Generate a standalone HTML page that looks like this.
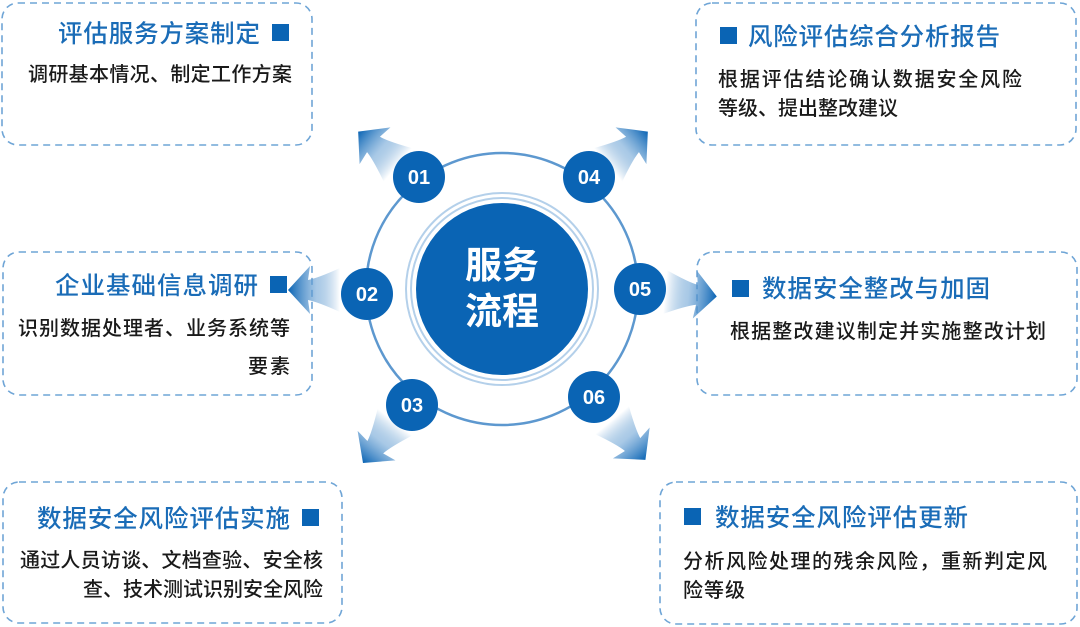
<!DOCTYPE html>
<html><head><meta charset="utf-8"><style>
html,body{margin:0;padding:0;background:#fff;width:1080px;height:627px;overflow:hidden}
svg{display:block}
.t{font-family:"Liberation Sans","Noto Sans CJK SC",sans-serif;font-size:24.5px;fill:#1a6cb7;font-weight:500}
.b{font-family:"Liberation Sans","Noto Sans CJK SC",sans-serif;font-size:20px;fill:#1a1a1a;font-weight:500}
.n{font-family:"Liberation Sans","Noto Sans CJK SC",sans-serif;font-size:20px;fill:#fff;font-weight:bold}
.c{font-family:"Liberation Sans","Noto Sans CJK SC",sans-serif;font-size:37px;fill:#fff;font-weight:bold}
</style></head><body>
<svg width="1080" height="627" viewBox="0 0 1080 627">
<defs>
<linearGradient id="g" x1="0" y1="0" x2="1" y2="0">
<stop offset="0" stop-color="#0a64b4" stop-opacity="0"/>
<stop offset="0.45" stop-color="#6fa5d6" stop-opacity="0.6"/>
<stop offset="1" stop-color="#0a64b4"/>
</linearGradient>
<path id="ar" d="M0,-22 Q22,-12 32,-10 L30,-24 L52,0 L30,24 L32,10 Q22,12 0,22 Z" fill="url(#g)"/>
</defs>
<g fill="none" stroke="#6fa5d6" stroke-width="1.6" stroke-dasharray="7,5">
<rect x="2" y="3" width="310" height="142" rx="16"/>
<rect x="3" y="252" width="309" height="143" rx="16"/>
<rect x="3" y="482" width="339" height="141" rx="16"/>
<rect x="696" y="3" width="380" height="142" rx="16"/>
<rect x="697" y="252" width="380" height="143" rx="16"/>
<rect x="660" y="482" width="417" height="142" rx="16"/>
</g>
<use href="#ar" transform="translate(398,165) rotate(-140)"/>
<use href="#ar" transform="translate(608,165) rotate(-40)"/>
<use href="#ar" transform="translate(340,290) rotate(180)"/>
<use href="#ar" transform="translate(665,292) rotate(5)"/>
<use href="#ar" transform="translate(395,422) rotate(128)"/>
<use href="#ar" transform="translate(612,420) rotate(50)"/>
<circle cx="502" cy="289" r="136" fill="none" stroke="#5d98cf" stroke-width="2.5"/>
<circle cx="502" cy="289" r="96" fill="none" stroke="#b4d0ea" stroke-width="2"/>
<circle cx="502" cy="289" r="91" fill="none" stroke="#b4d0ea" stroke-width="2"/>
<circle cx="502" cy="289" r="86" fill="#0a64b4"/>
<text class="c" x="502" y="278" text-anchor="middle">服务</text>
<text class="c" x="502" y="324" text-anchor="middle">流程</text>
<g fill="#0a64b4">
<circle cx="419" cy="177" r="26"/><circle cx="589" cy="177" r="26"/>
<circle cx="367" cy="294" r="26"/><circle cx="640" cy="289" r="26"/>
<circle cx="412" cy="405" r="26"/><circle cx="594" cy="397" r="26"/>
</g>
<text class="n" x="419" y="184" text-anchor="middle">01</text>
<text class="n" x="589" y="184" text-anchor="middle">04</text>
<text class="n" x="367" y="301" text-anchor="middle">02</text>
<text class="n" x="640" y="296" text-anchor="middle">05</text>
<text class="n" x="412" y="412" text-anchor="middle">03</text>
<text class="n" x="594" y="404" text-anchor="middle">06</text>
<g fill="#0a64b4">
<rect x="272" y="24" width="17" height="17"/>
<rect x="270" y="276" width="17" height="17"/>
<rect x="302" y="509" width="17" height="17"/>
<rect x="720" y="27" width="17" height="17"/>
<rect x="732" y="280" width="17" height="17"/>
<rect x="684" y="508" width="17" height="17"/>
</g>
<text class="t" x="58" y="42" textLength="202" lengthAdjust="spacing">评估服务方案制定</text>
<text class="b" x="28" y="81" textLength="264" lengthAdjust="spacing">调研基本情况、制定工作方案</text>

<text class="t" x="55" y="294" textLength="203" lengthAdjust="spacing">企业基础信息调研</text>
<text class="b" x="18" y="335" textLength="272" lengthAdjust="spacing">识别数据处理者、业务系统等</text>
<text class="b" x="248" y="373" textLength="42" lengthAdjust="spacing">要素</text>

<text class="t" x="37" y="527" textLength="253" lengthAdjust="spacing">数据安全风险评估实施</text>
<text class="b" x="20" y="567" textLength="303" lengthAdjust="spacing">通过人员访谈、文档查验、安全核</text>
<text class="b" x="83" y="596" textLength="240" lengthAdjust="spacing">查、技术测试识别安全风险</text>

<text class="t" x="748" y="45" textLength="252" lengthAdjust="spacing">风险评估综合分析报告</text>
<text class="b" x="718" y="86" textLength="304" lengthAdjust="spacing">根据评估结论确认数据安全风险</text>
<text class="b" x="718" y="115" textLength="180" lengthAdjust="spacing">等级、提出整改建议</text>

<text class="t" x="762" y="297" textLength="228" lengthAdjust="spacing">数据安全整改与加固</text>
<text class="b" x="730" y="338" textLength="316" lengthAdjust="spacing">根据整改建议制定并实施整改计划</text>

<text class="t" x="715" y="526" textLength="253" lengthAdjust="spacing">数据安全风险评估更新</text>
<text class="b" x="683" y="568" textLength="364" lengthAdjust="spacing">分析风险处理的残余风险，重新判定风</text>
<text class="b" x="683" y="597" textLength="62" lengthAdjust="spacing">险等级</text>
</svg>
</body></html>
